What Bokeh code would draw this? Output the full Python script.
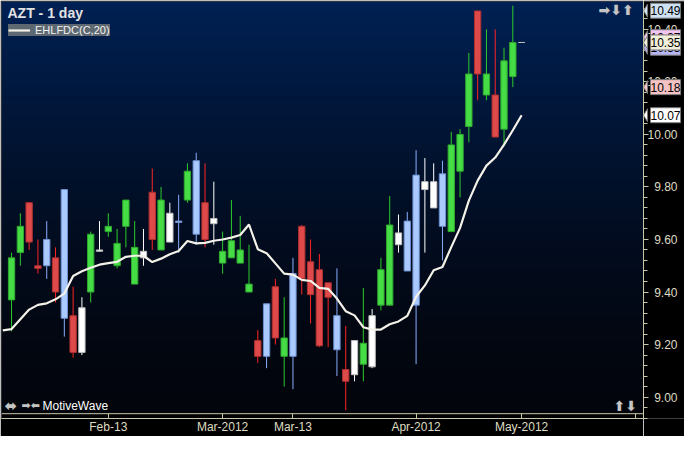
import numpy as np
from bokeh.plotting import figure
from bokeh.layouts import row
from bokeh.models import (ColumnDataSource, LinearAxis, FixedTicker, SingleIntervalTicker,
                          NumeralTickFormatter, Label, Legend, LegendItem, Range1d,
                          PolyAnnotation, Span)
from bokeh.embed import file_html
from bokeh.resources import INLINE

# ---------------- data ----------------
symbol = "AZT"
period = "1 day"
indicator_name = "EHLFDC(C,20)"

bar_index = list(range(1, 60))
opens = [9.37, 9.55, 9.74, 9.50, 9.50, 9.53, 9.30, 9.31, 9.17, 9.40,
         9.555, 9.63, 9.50, 9.65, 9.43, 9.53, 9.78, 9.56, 9.59, 9.665,
         9.75, 9.62, 9.74, 9.66, 9.51, 9.53, 9.51, 9.40, 9.215, 9.155,
         9.42, 9.155, 9.155, 9.65, 9.515, 9.485, 9.435, 9.18, 9.105, 9.085,
         9.125, 9.115, 9.35, 9.35, 9.58, 9.48, 9.35, 9.79, 9.72, 9.65,
         9.63, 9.86, 10.03, 10.47, 10.15, 10.15, 10.02, 10.22, 10.35]
highs = [9.55, 9.70, 9.74, 9.60, 9.67, 9.57, 9.79, 9.42, 9.38, 9.63,
         9.67, 9.70, 9.64, 9.75, 9.67, 9.64, 9.87, 9.80, 9.74, 9.77,
         9.89, 9.93, 9.89, 9.82, 9.63, 9.75, 9.69, 9.58, 9.255, 9.355,
         9.45, 9.38, 9.53, 9.655, 9.60, 9.545, 9.435, 9.49, 9.27, 9.215,
         9.415, 9.335, 9.53, 9.765, 9.695, 9.705, 9.94, 9.91, 9.89, 9.90,
         10.01, 10.02, 10.31, 10.47, 10.40, 10.40, 10.33, 10.49, 10.35]
lows = [9.25, 9.50, 9.56, 9.47, 9.45, 9.36, 9.23, 9.15, 9.16, 9.36,
        9.555, 9.61, 9.49, 9.57, 9.43, 9.50, 9.56, 9.56, 9.59, 9.55,
        9.74, 9.58, 9.57, 9.58, 9.47, 9.53, 9.51, 9.40, 9.13, 9.11,
        9.20, 9.04, 9.03, 9.39, 9.28, 9.19, 9.19, 9.08, 8.95, 9.06,
        9.06, 9.11, 9.33, 9.35, 9.55, 9.48, 9.125, 9.55, 9.72, 9.52,
        9.63, 9.76, 9.97, 10.13, 10.13, 9.99, 9.955, 10.18, 10.35]
closes = [9.53, 9.65, 9.59, 9.49, 9.60, 9.40, 9.79, 9.17, 9.34, 9.62,
          9.56, 9.65, 9.585, 9.75, 9.57, 9.555, 9.60, 9.75, 9.70, 9.67,
          9.86, 9.90, 9.60, 9.68, 9.555, 9.595, 9.56, 9.43, 9.155, 9.355,
          9.225, 9.225, 9.47, 9.45, 9.39, 9.195, 9.38, 9.31, 9.06, 9.215,
          9.205, 9.31, 9.485, 9.655, 9.625, 9.67, 9.845, 9.82, 9.82, 9.85,
          9.96, 10.00, 10.23, 10.23, 10.23, 9.99, 10.28, 10.35, 10.35]
bar_kind = ["up", "up", "down", "down", "blue", "down", "blue", "down", "white", "up",
            "white", "up", "up", "up", "up", "white", "down", "up", "white", "blue",
            "up", "blue", "down", "white", "up", "up", "up", "up", "down", "blue",
            "down", "up", "blue", "down", "down", "down", "down", "blue", "down", "white",
            "up", "white", "up", "up", "white", "blue", "blue", "white", "white", "blue",
            "up", "up", "up", "down", "up", "down", "up", "up", "white"]

line_index = list(range(0, 60))
ehlfdc = [9.254, 9.259, 9.296, 9.333, 9.351, 9.357, 9.372, 9.394, 9.461, 9.479,
          9.492, 9.504, 9.510, 9.515, 9.534, 9.538, 9.538, 9.514, 9.527, 9.544,
          9.556, 9.594, 9.585, 9.587, 9.595, 9.600, 9.607, 9.617, 9.657, 9.563,
          9.548, 9.509, 9.470, 9.466, 9.446, 9.442, 9.416, 9.412, 9.375, 9.327,
          9.311, 9.266, 9.257, 9.257, 9.277, 9.288, 9.309, 9.382, 9.425, 9.483,
          9.495, 9.571, 9.644, 9.748, 9.824, 9.881, 9.912, 9.961, 10.016, 10.073]

tick_index = [12, 25, 33, 47, 59, 72]
tick_labels = ["Feb-13", "Mar-2012", "Mar-13", "Apr-2012", "May-2012", ""]

ask_price = 10.37
bid_price = 10.33

# ---------------- style ----------------
W, H = 684, 436
SIDE_W = 41
MAIN_W = W - SIDE_W
B_LEFT, B_TOP, B_BOTTOM = 1, 1, 17
FRAME_W = MAIN_W - B_LEFT
FRAME_H = H - B_TOP - B_BOTTOM
X0, X1 = -0.144, 72.86
Y0, Y1 = 8.9184, 10.506        # frame bottom / top
RULE_Y = 8.9367                 # upper rule of the time scale
FONT = "Liberation Sans"
CREAM = "#c8c8a8"
CREAM_TXT = "#dedcc2"

kind_style = {
    "up":    ("#46dc46", "#2fa92f", "#2ccc2c"),
    "down":  ("#de4a4a", "#b03030", "#ff2424"),
    "blue":  ("#aacaff", "#6d8fcf", "#8aaeff"),
    "white": ("#ffffff", "#bdbdbd", "#ffffff"),
}

src = ColumnDataSource(dict(
    x=bar_index, o=opens, h=highs, l=lows, c=closes,
    top=[max(a, b) for a, b in zip(opens, closes)],
    bottom=[min(a, b) for a, b in zip(opens, closes)],
    fill=[kind_style[k][0] for k in bar_kind],
    edge=[kind_style[k][1] for k in bar_kind],
    wick=[kind_style[k][2] for k in bar_kind],
))

y_rng = Range1d(Y0, Y1)
p = figure(width=MAIN_W, height=H, x_range=Range1d(X0, X1), y_range=y_rng,
           output_backend="svg", toolbar_location=None, tools="",
           x_axis_type=None, y_axis_type=None,
           min_border_left=B_LEFT, min_border_top=B_TOP,
           min_border_right=0, min_border_bottom=B_BOTTOM)
p.background_fill_color = "#000000"
p.border_fill_color = "#000000"
p.outline_line_color = None

# vertical gradient background (navy -> black)
n = 240
t = 1 - np.arange(n) / (n - 1)          # 0 at top row, 1 at bottom row
g = (1 - t) ** 1.5
top_c = np.array([0, 33, 84])
bot_c = np.array([3, 5, 12])
img = np.empty((n, 1), dtype=np.uint32)
view = img.view(dtype=np.uint8).reshape((n, 1, 4))
for i in range(n):
    col = bot_c + (top_c - bot_c) * g[i]
    view[i, 0, 0], view[i, 0, 1], view[i, 0, 2] = col.astype(np.uint8)
    view[i, 0, 3] = 255
p.image_rgba(image=[img], x=X0, y=RULE_Y, dw=X1 - X0, dh=Y1 - RULE_Y, level="image")

# candles
p.segment(x0="x", y0="h", x1="x", y1="l", color="wick", line_width=1, source=src)
p.vbar(x="x", width=0.72, top="top", bottom="bottom", fill_color="fill",
       line_color="edge", line_width=1, source=src)

# indicator line
line_r = p.line(line_index, ehlfdc, line_color="#f3f1e8", line_width=2.2)

legend = Legend(items=[LegendItem(label=indicator_name, renderers=[line_r])],
                location=(7, FRAME_H - 36), orientation="vertical",
                background_fill_color="#5e6871", background_fill_alpha=1,
                border_line_color=None, padding=2, margin=0, spacing=0,
                glyph_width=22, glyph_height=12, label_height=12, label_standoff=5,
                label_text_font=FONT, label_text_font_size="11px",
                label_text_color="#f2f2f2")
p.add_layout(legend)

# time scale: upper rule inside the frame, axis line at frame bottom, ticks between
p.add_layout(Span(location=RULE_Y, dimension="width", line_color=CREAM, line_width=1))
xax = LinearAxis(ticker=FixedTicker(ticks=tick_index, minor_ticks=[]),
                 major_label_overrides={k: v for k, v in zip(tick_index, tick_labels)})
xax.axis_line_color = CREAM
xax.major_tick_line_color = CREAM
xax.major_tick_in = 5
xax.major_tick_out = 0
xax.minor_tick_out = 0
xax.minor_tick_in = 0
xax.major_label_standoff = 1
xax.major_label_text_font = FONT
xax.major_label_text_font_size = "12px"
xax.major_label_text_color = CREAM_TXT
p.add_layout(xax, "below")

# title and decorations
p.add_layout(Label(x=6, y=FRAME_H - 12.5, x_units="screen", y_units="screen",
                   text=f"{symbol} - {period}", text_font=FONT, text_font_style="bold",
                   text_font_size="14px", text_color="#e2e2e2", text_baseline="middle"))
p.add_layout(Label(x=41, y=13, x_units="screen", y_units="screen", text="MotiveWave",
                   text_font=FONT, text_font_size="12px", text_color="#ffffff",
                   text_baseline="middle"))
p.add_layout(Label(x=3, y=13, x_units="screen", y_units="screen", text="⬌",
                   text_font="DejaVu Sans", text_font_style="bold", text_font_size="15px",
                   text_color="#c4c4c4", text_baseline="middle"))
p.add_layout(Label(x=20, y=13, x_units="screen", y_units="screen", text="➡⬅",
                   text_font="DejaVu Sans", text_font_style="bold", text_font_size="11px",
                   text_color="#c4c4c4", text_baseline="middle"))
p.add_layout(Label(x=597, y=FRAME_H - 9, x_units="screen", y_units="screen", text="➡⬇⬆",
                   text_font="DejaVu Sans", text_font_style="bold", text_font_size="14px",
                   text_color="#c4c4c4", text_baseline="middle"))
p.add_layout(Label(x=612, y=13, x_units="screen", y_units="screen", text="⬆⬇",
                   text_font="DejaVu Sans", text_font_style="bold", text_font_size="14px",
                   text_color="#c4c4c4", text_baseline="middle"))

# ---------------- price axis column ----------------
s = figure(width=SIDE_W, height=H, x_range=Range1d(0, SIDE_W), y_range=y_rng,
           output_backend="svg", toolbar_location=None, tools="",
           x_axis_type=None, y_axis_type=None,
           min_border_left=0, min_border_top=B_TOP, min_border_right=0,
           min_border_bottom=B_BOTTOM)
s.background_fill_color = "#000000"
s.border_fill_color = "#000000"
s.outline_line_color = None

yax = LinearAxis(ticker=SingleIntervalTicker(interval=0.2, num_minor_ticks=5),
                 formatter=NumeralTickFormatter(format="0.00"))
yax.axis_line_color = CREAM
yax.major_tick_line_color = CREAM
yax.minor_tick_line_color = CREAM
yax.major_tick_out = 0
yax.major_tick_in = 5
yax.minor_tick_out = 0
yax.minor_tick_in = 4
yax.major_label_standoff = -34
yax.major_label_text_font = FONT
yax.major_label_text_font_size = "12px"
yax.major_label_text_color = CREAM_TXT
s.add_layout(yax, "left")

# price tags on the axis
px_data = (Y1 - Y0) / FRAME_H
tags = [
    (highs[-2], "#cfe2f4", -5),
    (ask_price, "#f2c6f2", 0),
    (bid_price, "#b6b6f2", 0),
    (closes[-1], "#f1efd8", 0),
    (lows[-2], "#f5c3c3", 0),
    (ehlfdc[-1], "#ffffff", 0),
]
tip_x = 0
box_x = 4
for val, colr, off in tags:
    yc = val + off * px_data
    half = 6.5 * px_data
    s.add_layout(PolyAnnotation(xs=[tip_x, box_x, box_x], ys=[yc, yc + half, yc - half],
                                xs_units="data", ys_units="data",
                                fill_color=colr, fill_alpha=1, line_color="#7a7a7a",
                                line_alpha=1, line_width=1))
    s.add_layout(Label(x=box_x + 3, y=val, x_units="data", y_units="data", y_offset=off,
                       text=f"{val:.2f}", text_font=FONT, text_font_size="12px",
                       text_color="#000000", text_align="left", text_baseline="middle",
                       background_fill_color=colr, background_fill_alpha=1,
                       border_line_color="#7a7a7a", padding=(0, 3)))

layout = row(p, s, spacing=0)
open("out.html", "w").write(file_html(layout, INLINE))
